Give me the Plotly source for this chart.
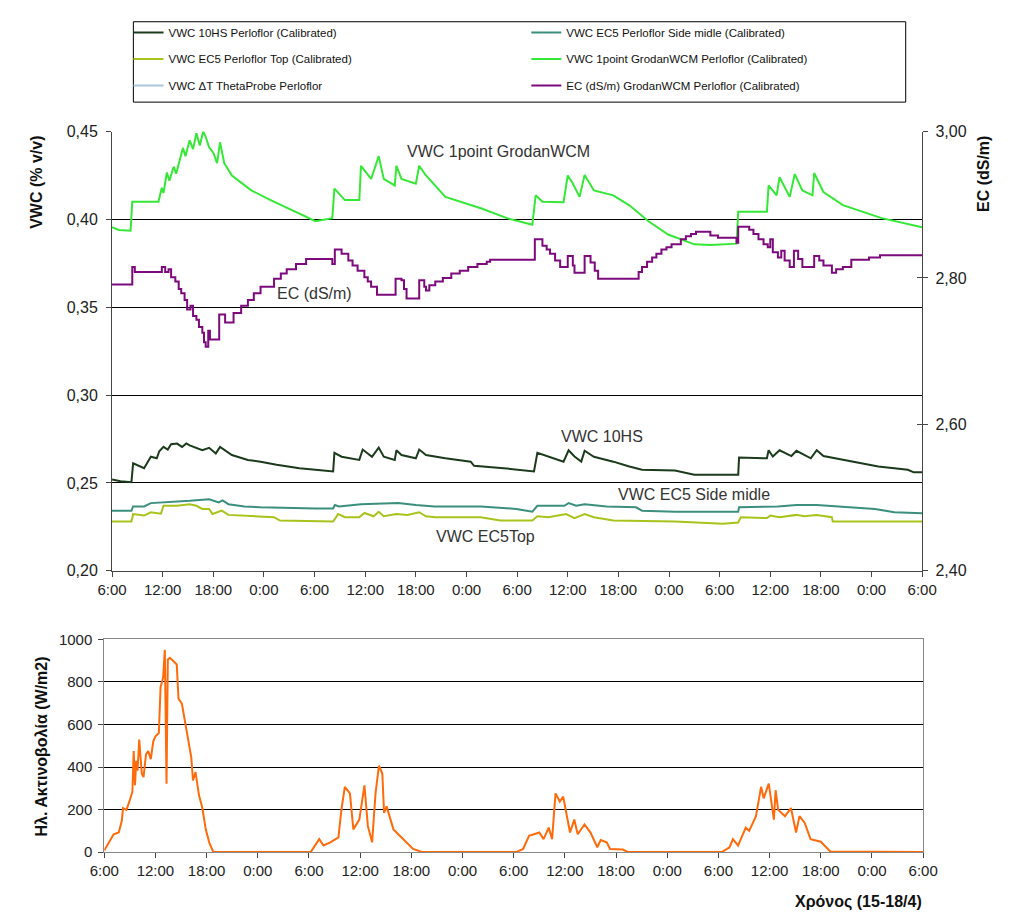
import plotly.graph_objects as go

W, H = 1009, 917


def px(x):
    return x / W


def py(y):
    return 1 - y / H


# ---------------- data (hours after 15/4 6:00, value) ----------------
tick_hours = list(range(0, 97, 6))
tick_labels = ["6:00", "12:00", "18:00", "0:00"] * 4 + ["6:00"]

vwc_ticks = [0.20, 0.25, 0.30, 0.35, 0.40, 0.45]
vwc_tick_text = ["0,20", "0,25", "0,30", "0,35", "0,40", "0,45"]
ec_ticks = [2.40, 2.60, 2.80, 3.00]
ec_tick_text = ["2,40", "2,60", "2,80", "3,00"]
rad_ticks = [0, 200, 400, 600, 800, 1000]

vwc_10hs = [
    (0, 0.2519), (1.0, 0.2510), (2.3, 0.2504), (2.5, 0.2612), (3.8, 0.2584), (4.2, 0.2620),
    (4.6, 0.2649), (5.3, 0.2640), (5.6, 0.2680), (6.1, 0.2705), (6.6, 0.2690), (7.0, 0.2720),
    (7.7, 0.2724), (8.3, 0.2705), (8.8, 0.2725), (9.2, 0.2714), (10.0, 0.2700), (10.7, 0.2686),
    (11.5, 0.2700), (12.3, 0.2668), (12.8, 0.2705), (14.2, 0.2659), (16.1, 0.2631), (17.6, 0.2621),
    (19.5, 0.2603), (22.2, 0.2584), (24.1, 0.2575), (26.2, 0.2565), (26.35, 0.2671), (27.2, 0.2649),
    (29.3, 0.2631), (29.7, 0.2690), (30.8, 0.2649), (31.6, 0.2701), (32.2, 0.2649), (33.5, 0.2631),
    (33.7, 0.2686), (34.3, 0.2659), (36.0, 0.2640), (36.4, 0.2690), (37.2, 0.2659), (39.5, 0.2640),
    (42.5, 0.2621), (42.9, 0.2597), (46.4, 0.2584), (50.0, 0.2565), (50.4, 0.2671), (51.7, 0.2649),
    (53.5, 0.2621), (54.1, 0.2686), (54.8, 0.2650), (55.6, 0.2621), (56.0, 0.2683), (57.1, 0.2649),
    (59.4, 0.2621), (61.3, 0.2593), (62.8, 0.2575), (66.7, 0.2571), (69.0, 0.2547), (74.2, 0.2547),
    (74.3, 0.2645), (77.6, 0.2640), (77.8, 0.2686), (78.3, 0.2650), (79.1, 0.2686), (80.5, 0.2653),
    (81.1, 0.2683), (82.8, 0.2640), (83.5, 0.2686), (84.3, 0.2653), (86.6, 0.2631), (88.5, 0.2612),
    (90.8, 0.2593), (94.3, 0.2575), (95.0, 0.2560), (96.0, 0.2560),
]

vwc_ec5_side = [
    (0, 0.2342), (2.3, 0.2342), (2.5, 0.2366), (3.8, 0.2366), (4.6, 0.2385), (6.5, 0.2389),
    (9.2, 0.2398), (11.5, 0.2407), (12.65, 0.2389), (13.1, 0.2400), (13.8, 0.2379), (15.7, 0.2366),
    (17.6, 0.2361), (24.1, 0.2355), (26.2, 0.2355), (26.4, 0.2374), (26.9, 0.2366), (29.5, 0.2379),
    (33.9, 0.2385), (36.0, 0.2374), (38.2, 0.2366), (43.7, 0.2366), (45.6, 0.2361), (47.9, 0.2352),
    (49.8, 0.2336), (50.4, 0.2370), (53.6, 0.2370), (54.1, 0.2385), (55.0, 0.2370), (56.0, 0.2379),
    (58.6, 0.2366), (62.1, 0.2361), (62.8, 0.2342), (66.7, 0.2336), (74.2, 0.2336), (74.3, 0.2361),
    (78.9, 0.2366), (81.1, 0.2374), (83.5, 0.2374), (88.1, 0.2361), (90.4, 0.2352), (92.7, 0.2333),
    (96.0, 0.2327),
]

vwc_ec5_top = [
    (0, 0.2280), (2.3, 0.2280), (2.5, 0.2323), (3.8, 0.2314), (4.6, 0.2333), (5.8, 0.2325),
    (6.1, 0.2370), (7.7, 0.2370), (9.2, 0.2379), (10.0, 0.2370), (10.7, 0.2352), (11.5, 0.2352),
    (11.9, 0.2323), (13.0, 0.2342), (13.8, 0.2318), (15.7, 0.2314), (19.2, 0.2305), (19.9, 0.2286),
    (26.2, 0.2280), (26.8, 0.2323), (27.6, 0.2305), (29.3, 0.2305), (29.9, 0.2329), (31.0, 0.2310),
    (31.6, 0.2336), (32.2, 0.2310), (33.7, 0.2323), (35.0, 0.2318), (36.4, 0.2333), (37.2, 0.2310),
    (38.3, 0.2305), (43.7, 0.2305), (46.0, 0.2286), (49.8, 0.2286), (50.4, 0.2310), (51.7, 0.2305),
    (53.8, 0.2323), (54.8, 0.2299), (56.0, 0.2323), (57.1, 0.2305), (59.4, 0.2286), (66.7, 0.2280),
    (72.4, 0.2267), (74.2, 0.2275), (74.5, 0.2305), (77.6, 0.2300), (78.0, 0.2314), (79.1, 0.2305),
    (81.1, 0.2318), (82.0, 0.2310), (83.5, 0.2318), (85.3, 0.2305), (85.4, 0.2280), (96.0, 0.2280),
]

vwc_grodan = [
    (0, 0.3955), (0.8, 0.3940), (2.2, 0.3936), (2.4, 0.4100), (5.5, 0.4100), (5.9, 0.4180),
    (6.1, 0.4150), (6.5, 0.4267), (6.8, 0.4220), (7.3, 0.4300), (7.6, 0.4260), (8.0, 0.4330),
    (8.4, 0.4407), (8.7, 0.4360), (9.2, 0.4450), (9.6, 0.4400), (10.0, 0.4490), (10.4, 0.4420),
    (10.8, 0.4500), (11.1, 0.4470), (11.5, 0.4410), (12.0, 0.4380), (12.45, 0.4320), (12.8, 0.4439),
    (13.3, 0.4320), (14.2, 0.4250), (15.3, 0.4210), (16.5, 0.4165), (18.8, 0.4110), (21.5, 0.4050),
    (24.1, 0.3990), (26.1, 0.4007), (26.35, 0.4175), (27.6, 0.4110), (29.3, 0.4110), (29.5, 0.4305),
    (30.7, 0.4230), (31.6, 0.4360), (32.2, 0.4230), (33.5, 0.4193), (33.7, 0.4305), (34.3, 0.4230),
    (36.0, 0.4203), (36.4, 0.4305), (37.2, 0.4250), (39.5, 0.4128), (43.7, 0.4063), (46.8, 0.4007),
    (49.8, 0.3970), (50.2, 0.4137), (51.0, 0.4100), (53.5, 0.4097), (54.0, 0.4250), (54.6, 0.4204),
    (55.4, 0.4128), (56.0, 0.4253), (57.1, 0.4165), (59.4, 0.4137), (61.3, 0.4080), (63.6, 0.3988),
    (65.9, 0.3914), (69.0, 0.3858), (70.9, 0.3854), (74.0, 0.3862), (74.2, 0.4044), (77.6, 0.4044),
    (77.8, 0.4193), (78.75, 0.4137), (79.1, 0.4240), (80.3, 0.4128), (80.9, 0.4258), (81.8, 0.4165),
    (83.0, 0.4137), (83.2, 0.4264), (84.3, 0.4156), (86.6, 0.4081), (91.2, 0.4007), (96.0, 0.3955),
]

ec_grodan = [
    (0, 2.791), (2.4, 2.815), (2.7, 2.808), (5.9, 2.815), (6.3, 2.808), (6.7, 2.812), (7.0, 2.801),
    (7.5, 2.795), (7.9, 2.785), (8.2, 2.779), (8.6, 2.770), (8.9, 2.757), (9.3, 2.762), (9.6, 2.748),
    (10.0, 2.743), (10.3, 2.733), (10.7, 2.725), (10.9, 2.712), (11.1, 2.706), (11.4, 2.728),
    (11.6, 2.716), (12.7, 2.750), (13.4, 2.739), (14.4, 2.752), (15.3, 2.762), (16.1, 2.770),
    (16.8, 2.779), (17.6, 2.788), (19.2, 2.799), (20.0, 2.806), (20.7, 2.812), (21.8, 2.819),
    (23.0, 2.826), (26.1, 2.819), (26.4, 2.839), (27.2, 2.833), (28.0, 2.824), (28.5, 2.817),
    (29.1, 2.810), (29.9, 2.801), (30.3, 2.795), (30.7, 2.788), (31.4, 2.777), (33.6, 2.799),
    (34.3, 2.797), (34.6, 2.785), (34.9, 2.772), (36.4, 2.797), (37.0, 2.788), (37.2, 2.783),
    (37.6, 2.790), (38.3, 2.795), (39.2, 2.800), (40.2, 2.806), (41.2, 2.810), (42.2, 2.815),
    (43.3, 2.819), (44.4, 2.822), (44.8, 2.825), (50.1, 2.853), (51.0, 2.844), (51.5, 2.839),
    (51.9, 2.833), (52.5, 2.824), (53.1, 2.815), (54.0, 2.830), (54.6, 2.817), (54.8, 2.807),
    (56.0, 2.830), (56.7, 2.821), (57.2, 2.810), (57.6, 2.799), (62.4, 2.808), (62.8, 2.815),
    (63.4, 2.822), (64.0, 2.828), (64.5, 2.833), (65.1, 2.839), (65.7, 2.842), (66.3, 2.846),
    (67.4, 2.853), (68.0, 2.857), (68.6, 2.860), (69.2, 2.863), (70.9, 2.858), (71.8, 2.855),
    (74.0, 2.848), (74.2, 2.870), (75.5, 2.866), (76.0, 2.860), (76.6, 2.853), (77.2, 2.846),
    (77.7, 2.842), (78.0, 2.853), (78.3, 2.835), (78.9, 2.828), (79.3, 2.837), (79.7, 2.824),
    (80.3, 2.815), (80.8, 2.837), (81.3, 2.826), (81.8, 2.815), (83.2, 2.830), (83.8, 2.824),
    (84.3, 2.817), (85.3, 2.807), (85.8, 2.812), (86.6, 2.815), (87.6, 2.825), (89.7, 2.828),
    (91.0, 2.831), (96.0, 2.831),
]

radiation = [
    (0, 8), (0.5, 46), (1.1, 84), (1.7, 92), (2.05, 146), (2.2, 207), (2.6, 199), (3.0, 245),
    (3.3, 284), (3.45, 475), (3.6, 314), (3.75, 429), (3.9, 383), (4.1, 529), (4.4, 368), (4.6, 353),
    (4.9, 460), (5.15, 475), (5.45, 437), (5.75, 521), (6.0, 544), (6.4, 560), (6.6, 775), (6.9, 821),
    (7.1, 951), (7.3, 322), (7.45, 905), (7.7, 913), (8.5, 882), (8.7, 721), (9.1, 698), (9.6, 583),
    (10.2, 445), (10.4, 337), (10.7, 376), (11.1, 268), (11.5, 207), (11.9, 107), (12.3, 46),
    (12.75, 3), (12.9, 0), (24.2, 0), (25.2, 61), (25.7, 31), (26.5, 46), (27.45, 69), (27.8, 199),
    (28.2, 307), (28.8, 276), (29.2, 107), (29.9, 153), (30.5, 314), (30.9, 123), (31.4, 46),
    (31.8, 276), (32.2, 406), (32.6, 368), (32.8, 184), (33.1, 215), (33.9, 107), (35.0, 61),
    (36.2, 15), (37.3, 0), (48.3, 0), (49.1, 15), (49.8, 77), (51.0, 92), (51.5, 61), (52.1, 115),
    (52.5, 61), (52.9, 276), (53.4, 238), (53.8, 261), (54.6, 92), (55.1, 153), (55.5, 84),
    (56.3, 130), (57.0, 92), (57.8, 23), (58.2, 57), (58.9, 46), (59.3, 15), (60.8, 12), (61.4, 0),
    (72.4, 0), (73.3, 23), (73.7, 61), (74.3, 31), (75.2, 115), (75.6, 100), (76.4, 169), (77.0, 307),
    (77.3, 253), (77.9, 322), (78.5, 153), (78.7, 291), (79.0, 199), (79.8, 169), (80.5, 207),
    (81.1, 92), (81.5, 169), (82.1, 138), (82.8, 61), (84.0, 49), (85.1, 3), (96.0, 0),
]

FONT = "Liberation Sans, Arial, sans-serif"


def xs(series):
    return [p[0] for p in series]


def ys(series):
    return [p[1] for p in series]


fig = go.Figure()

series_defs = [
    ("VWC 10HS Perloflor (Calibrated)", vwc_10hs, "#1c3a1c", "legend"),
    ("VWC EC5 Perloflor Side midle (Calibrated)", vwc_ec5_side, "#3b8f7c", "legend2"),
    ("VWC EC5 Perloflor Top (Calibrated)", vwc_ec5_top, "#a9c31c", "legend3"),
    ("VWC 1point GrodanWCM Perloflor (Calibrated)", vwc_grodan, "#36e836", "legend4"),
]
for name, s, col, leg in series_defs:
    fig.add_trace(go.Scatter(x=xs(s), y=ys(s), name=name, mode="lines",
                             line=dict(color=col, width=2),
                             xaxis="x", yaxis="y", legend=leg))

# ThetaProbe series: listed in the legend, no visible data in the chart
fig.add_trace(go.Scatter(x=[None], y=[None], name="VWC \u0394T ThetaProbe Perloflor", mode="lines",
                         line=dict(color="#a8c6dc", width=2), xaxis="x", yaxis="y", legend="legend5"))

fig.add_trace(go.Scatter(x=xs(ec_grodan), y=ys(ec_grodan), name="EC (dS/m) GrodanWCM Perloflor (Calibrated)",
                         mode="lines", line=dict(color="#7d0a7d", width=2, shape="hv"),
                         xaxis="x", yaxis="y2", legend="legend6"))

# helper trace so the inside half of the EC cross ticks is drawn
fig.add_trace(go.Scatter(x=[None], y=[None], xaxis="x", yaxis="y4", showlegend=False, hoverinfo="skip"))

fig.add_trace(go.Scatter(x=xs(radiation), y=ys(radiation), mode="lines", showlegend=False,
                         line=dict(color="#ff6a0a", width=2), xaxis="x2", yaxis="y3"))

xtickfont = dict(family=FONT, size=15, color="#222")
ytickfont = dict(family=FONT, size=16, color="#222")

fig.update_layout(
    width=W, height=H,
    margin=dict(l=0, r=0, t=0, b=0),
    paper_bgcolor="white", plot_bgcolor="white",
    font=dict(family=FONT, size=15, color="#222"),
    separators=",.",
    xaxis=dict(domain=[px(100), px(935)], range=[0, 96], anchor="y",
               tickmode="array", tickvals=tick_hours, ticktext=tick_labels,
               ticks="outside", ticklen=5, tickcolor="#444", tickfont=xtickfont,
               showline=True, linecolor="#444", showgrid=False, zeroline=False),
    yaxis=dict(domain=[py(573), py(125)], range=[0.20, 0.45], anchor="x",
               tickmode="array", tickvals=vwc_ticks, ticktext=vwc_tick_text,
               ticks="outside", ticklen=5, tickcolor="#444", tickfont=ytickfont,
               ticklabelstandoff=5,
               showline=True, linecolor="#444", showgrid=True, gridcolor="#000", gridwidth=1,
               zeroline=False),
    yaxis2=dict(overlaying="y", side="right", anchor="x", range=[2.40, 3.00],
                tickmode="array", tickvals=ec_ticks, ticktext=ec_tick_text,
                ticks="outside", ticklen=5, tickcolor="#444", tickfont=ytickfont,
                ticklabelstandoff=4,
                showline=True, linecolor="#444", showgrid=False, zeroline=False),
    yaxis4=dict(overlaying="y", side="right", anchor="x", range=[2.40, 3.00],
                tickmode="array", tickvals=ec_ticks, ticks="inside", ticklen=5, tickcolor="#444",
                showticklabels=False, showline=False, showgrid=False, zeroline=False),
    xaxis2=dict(domain=[px(92), px(936)], range=[0, 96], anchor="y3",
                tickmode="array", tickvals=tick_hours, ticktext=tick_labels,
                ticks="outside", ticklen=5, tickcolor="#444", tickfont=xtickfont,
                showline=True, linecolor="#888", mirror=True, showgrid=False, zeroline=False,
                layer="below traces"),
    yaxis3=dict(domain=[py(860), py(643)], range=[0, 1000], anchor="x2",
                tickmode="array", tickvals=rad_ticks,
                ticks="outside", ticklen=5, tickcolor="#444", tickfont=xtickfont,
                ticklabelstandoff=3,
                showline=True, linecolor="#888", mirror=True, showgrid=True, gridcolor="#000",
                gridwidth=1, zeroline=False, layer="below traces"),
)

# legends: 2 columns x 3 rows
leg_cols = [px(117), px(527)]
leg_rows = [py(24), py(51), py(78)]
leg_names = ["legend", "legend2", "legend3", "legend4", "legend5", "legend6"]
leg_pos = [(0, 0), (1, 0), (0, 1), (1, 1), (0, 2), (1, 2)]
for ln, (c, r) in zip(leg_names, leg_pos):
    fig.update_layout({ln: dict(x=leg_cols[c], y=leg_rows[r], xanchor="left", yanchor="middle",
                                bgcolor="rgba(0,0,0,0)", borderwidth=0,
                                font=dict(family=FONT, size=11.5, color="#111"))})

fig.add_shape(type="rect", xref="paper", yref="paper", x0=px(122), x1=px(918), y0=py(95), y1=py(13),
              line=dict(color="#000", width=1))

ann_font = dict(family=FONT, size=16, color="#333")
labels = [
    ("VWC 1point GrodanWCM", 498, 145),
    ("EC (dS/m)", 309, 290),
    ("VWC 10HS", 605, 436),
    ("VWC EC5 Side midle", 700, 495),
    ("VWC EC5Top", 485, 538),
]
for t, x, y in labels:
    fig.add_annotation(text=t, x=px(x), y=py(y), xref="paper", yref="paper", showarrow=False,
                       xanchor="center", yanchor="middle", font=ann_font)

title_font = dict(family=FONT, size=16, color="#111", weight="bold")
fig.add_annotation(text="VWC (% v/v)", x=px(22), y=py(177), xref="paper", yref="paper", showarrow=False,
                   textangle=-90, xanchor="center", yanchor="middle", font=title_font)
fig.add_annotation(text="EC (dS/m)", x=px(998), y=py(168), xref="paper", yref="paper", showarrow=False,
                   textangle=-90, xanchor="center", yanchor="middle", font=title_font)
fig.add_annotation(text="Ηλ. Ακτινοβολία (W/m2)", x=px(27), y=py(752), xref="paper", yref="paper",
                   showarrow=False, textangle=-90, xanchor="center", yanchor="middle", font=title_font)
fig.add_annotation(text="Χρόνος (15-18/4)", x=px(937), y=py(911), xref="paper", yref="paper",
                   showarrow=False, xanchor="right", yanchor="middle", font=title_font)

fig.write_html("out.html")
